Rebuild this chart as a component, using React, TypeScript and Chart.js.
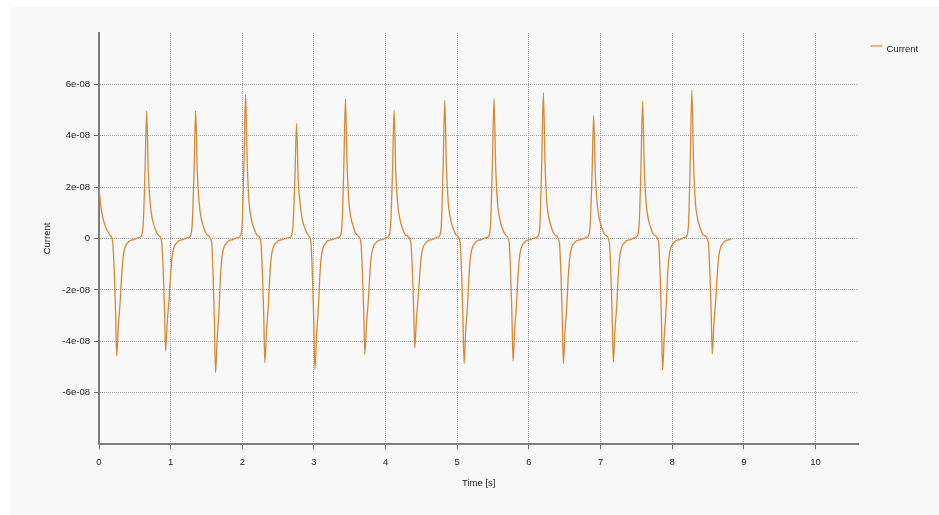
import React, { useEffect, useRef } from 'react';
import { Chart, registerables } from 'chart.js';

Chart.register(...registerables);

const seriesLabel = 'Current';
const xTitle = 'Time [s]';
const yTitle = 'Current';
const xTickValues = [0, 1, 2, 3, 4, 5, 6, 7, 8, 9, 10];
const xTickLabels = ['0', '1', '2', '3', '4', '5', '6', '7', '8', '9', '10'];
const yTickValues = [-6e-8, -4e-8, -2e-8, 0, 2e-8, 4e-8, 6e-8];
const yTickLabels = ['-6e-08', '-4e-08', '-2e-08', '0', '2e-08', '4e-08', '6e-08'];

const timeS = [
  0, 0.037, 0.084, 0.153,
  0.191, 0.214, 0.231, 0.247, 0.27, 0.294, 0.317, 0.34, 0.407, 0.487,
  0.555, 0.595, 0.618, 0.642, 0.665, 0.688, 0.712, 0.735, 0.781, 0.828,
  0.874, 0.897, 0.914, 0.93, 0.953, 0.977, 1.0, 1.023, 1.09, 1.17,
  1.239, 1.279, 1.302, 1.326, 1.349, 1.372, 1.396, 1.419, 1.465, 1.512,
  1.571, 1.594, 1.611, 1.627, 1.65, 1.674, 1.697, 1.72, 1.787, 1.867,
  1.936, 1.976, 1.999, 2.023, 2.046, 2.069, 2.093, 2.116, 2.162, 2.209,
  2.259, 2.282, 2.299, 2.315, 2.338, 2.362, 2.385, 2.408, 2.475, 2.555,
  2.647, 2.687, 2.71, 2.734, 2.757, 2.78, 2.804, 2.827, 2.873, 2.92,
  2.957, 2.98, 2.997, 3.013, 3.036, 3.06, 3.083, 3.106, 3.173, 3.253,
  3.33, 3.37, 3.393, 3.417, 3.44, 3.463, 3.487, 3.51, 3.556, 3.603,
  3.654, 3.677, 3.694, 3.71, 3.733, 3.757, 3.78, 3.803, 3.87, 3.95,
  4.009, 4.049, 4.072, 4.096, 4.119, 4.142, 4.166, 4.189, 4.235, 4.282,
  4.351, 4.374, 4.391, 4.407, 4.43, 4.454, 4.477, 4.5, 4.567, 4.647,
  4.716, 4.756, 4.779, 4.803, 4.826, 4.849, 4.873, 4.896, 4.942, 4.989,
  5.039, 5.062, 5.079, 5.095, 5.118, 5.142, 5.165, 5.188, 5.255, 5.335,
  5.403, 5.443, 5.466, 5.49, 5.513, 5.536, 5.56, 5.583, 5.629, 5.676,
  5.723, 5.746, 5.763, 5.779, 5.802, 5.826, 5.849, 5.872, 5.939, 6.019,
  6.092, 6.132, 6.155, 6.179, 6.202, 6.225, 6.249, 6.272, 6.318, 6.365,
  6.425, 6.448, 6.465, 6.481, 6.504, 6.528, 6.551, 6.574, 6.641, 6.721,
  6.794, 6.834, 6.857, 6.881, 6.904, 6.927, 6.951, 6.974, 7.02, 7.067,
  7.122, 7.145, 7.162, 7.178, 7.201, 7.225, 7.248, 7.271, 7.338, 7.418,
  7.477, 7.517, 7.54, 7.564, 7.587, 7.61, 7.634, 7.657, 7.703, 7.75,
  7.81, 7.833, 7.85, 7.866, 7.889, 7.913, 7.936, 7.959, 8.026, 8.106,
  8.165, 8.205, 8.228, 8.252, 8.275, 8.298, 8.322, 8.345, 8.391, 8.438,
  8.503, 8.526, 8.543, 8.559, 8.582, 8.606, 8.629, 8.652, 8.719, 8.824,
];

const currentA = [
  1.93e-8, 1.04e-8, 0.51e-8, 0.13e-8,
  -0.13e-8, -1.37e-8, -2.84e-8, -4.58e-8, -3.39e-8, -2.52e-8, -1.4e-8, -0.65e-8, -0.15e-8, -0.04e-8,
  0.03e-8, 0.12e-8, 0.6e-8, 2.58e-8, 4.96e-8, 2.58e-8, 1.45e-8, 0.9e-8, 0.4e-8, 0.13e-8,
  -0.13e-8, -1.31e-8, -2.72e-8, -4.38e-8, -3.24e-8, -2.41e-8, -1.4e-8, -0.65e-8, -0.15e-8, -0.04e-8,
  0.03e-8, 0.12e-8, 0.6e-8, 2.58e-8, 4.96e-8, 2.58e-8, 1.45e-8, 0.9e-8, 0.4e-8, 0.13e-8,
  -0.13e-8, -1.57e-8, -3.24e-8, -5.22e-8, -3.86e-8, -2.87e-8, -1.4e-8, -0.65e-8, -0.15e-8, -0.04e-8,
  0.03e-8, 0.12e-8, 0.6e-8, 2.92e-8, 5.61e-8, 2.92e-8, 1.45e-8, 0.9e-8, 0.4e-8, 0.13e-8,
  -0.13e-8, -1.45e-8, -3.0e-8, -4.84e-8, -3.58e-8, -2.66e-8, -1.4e-8, -0.65e-8, -0.15e-8, -0.04e-8,
  0.03e-8, 0.12e-8, 0.6e-8, 2.32e-8, 4.47e-8, 2.32e-8, 1.45e-8, 0.9e-8, 0.4e-8, 0.13e-8,
  -0.13e-8, -1.53e-8, -3.16e-8, -5.09e-8, -3.77e-8, -2.8e-8, -1.4e-8, -0.65e-8, -0.15e-8, -0.04e-8,
  0.03e-8, 0.12e-8, 0.6e-8, 2.82e-8, 5.42e-8, 2.82e-8, 1.45e-8, 0.9e-8, 0.4e-8, 0.13e-8,
  -0.13e-8, -1.35e-8, -2.8e-8, -4.51e-8, -3.34e-8, -2.48e-8, -1.4e-8, -0.65e-8, -0.15e-8, -0.04e-8,
  0.03e-8, 0.12e-8, 0.6e-8, 2.59e-8, 4.99e-8, 2.59e-8, 1.45e-8, 0.9e-8, 0.4e-8, 0.13e-8,
  -0.13e-8, -1.28e-8, -2.64e-8, -4.26e-8, -3.15e-8, -2.34e-8, -1.4e-8, -0.65e-8, -0.15e-8, -0.04e-8,
  0.03e-8, 0.12e-8, 0.6e-8, 2.8e-8, 5.38e-8, 2.8e-8, 1.45e-8, 0.9e-8, 0.4e-8, 0.13e-8,
  -0.13e-8, -1.46e-8, -3.02e-8, -4.87e-8, -3.6e-8, -2.68e-8, -1.4e-8, -0.65e-8, -0.15e-8, -0.04e-8,
  0.03e-8, 0.12e-8, 0.6e-8, 2.83e-8, 5.45e-8, 2.83e-8, 1.45e-8, 0.9e-8, 0.4e-8, 0.13e-8,
  -0.13e-8, -1.43e-8, -2.96e-8, -4.77e-8, -3.53e-8, -2.62e-8, -1.4e-8, -0.65e-8, -0.15e-8, -0.04e-8,
  0.03e-8, 0.12e-8, 0.6e-8, 2.95e-8, 5.67e-8, 2.95e-8, 1.45e-8, 0.9e-8, 0.4e-8, 0.13e-8,
  -0.13e-8, -1.46e-8, -3.02e-8, -4.87e-8, -3.6e-8, -2.68e-8, -1.4e-8, -0.65e-8, -0.15e-8, -0.04e-8,
  0.03e-8, 0.12e-8, 0.6e-8, 2.5e-8, 4.8e-8, 2.5e-8, 1.45e-8, 0.9e-8, 0.4e-8, 0.13e-8,
  -0.13e-8, -1.44e-8, -2.98e-8, -4.81e-8, -3.56e-8, -2.65e-8, -1.4e-8, -0.65e-8, -0.15e-8, -0.04e-8,
  0.03e-8, 0.12e-8, 0.6e-8, 2.78e-8, 5.35e-8, 2.78e-8, 1.45e-8, 0.9e-8, 0.4e-8, 0.13e-8,
  -0.13e-8, -1.54e-8, -3.18e-8, -5.13e-8, -3.8e-8, -2.82e-8, -1.4e-8, -0.65e-8, -0.15e-8, -0.04e-8,
  0.03e-8, 0.12e-8, 0.6e-8, 3.01e-8, 5.78e-8, 3.01e-8, 1.45e-8, 0.9e-8, 0.4e-8, 0.13e-8,
  -0.13e-8, -1.35e-8, -2.78e-8, -4.49e-8, -3.32e-8, -2.47e-8, -1.4e-8, -0.65e-8, -0.15e-8, -0.03e-8,
];

const LINE_COLOR = 'rgb(214,137,52)';
const FONT_FAMILY = '"Liberation Sans", Arial, sans-serif';

const sideLegend = {
  id: 'sideLegend',
  afterDraw(chart: any) {
    const { ctx, chartArea } = chart;
    const ds = chart.data.datasets[0];
    ctx.save();
    ctx.strokeStyle = 'rgba(214,137,52,0.75)';
    ctx.lineWidth = 1.5;
    ctx.beginPath();
    ctx.moveTo(chartArea.right + 12, chartArea.top + 13);
    ctx.lineTo(chartArea.right + 24, chartArea.top + 13);
    ctx.stroke();
    ctx.fillStyle = '#222';
    ctx.font = `9.5px ${FONT_FAMILY}`;
    ctx.textBaseline = 'middle';
    ctx.textAlign = 'left';
    ctx.fillText(ds.label, chartArea.right + 28, chartArea.top + 16);
    ctx.restore();
  },
};

export default function App() {
  const canvasRef = useRef<HTMLCanvasElement | null>(null);

  useEffect(() => {
    const canvas = canvasRef.current;
    if (!canvas) return;
    const points = timeS.map((t, i) => ({ x: t, y: currentA[i] }));
    const chart = new Chart(canvas, {
      type: 'line',
      data: {
        datasets: [
          {
            label: seriesLabel,
            data: points,
            borderColor: LINE_COLOR,
            borderWidth: 1.3,
            pointRadius: 0,
            fill: false,
            cubicInterpolationMode: 'monotone',
          },
        ],
      },
      options: {
        responsive: false,
        animation: false,
        devicePixelRatio: 1,
        layout: { padding: { left: 0, top: 33, right: 80.5, bottom: 0 } },
        plugins: {
          legend: { display: false },
          tooltip: { enabled: false },
        },
        scales: {
          x: {
            type: 'linear',
            min: 0,
            max: 10.6,
            afterBuildTicks: (scale: any) => {
              scale.ticks = xTickValues.map((value) => ({ value }));
            },
            afterFit: (scale: any) => {
              scale.height = 71;
            },
            ticks: {
              padding: 8,
              color: '#222',
              font: { family: FONT_FAMILY, size: 9.5 },
              callback: (_v: any, i: number) => xTickLabels[i],
              maxRotation: 0,
            },
            grid: {
              color: '#a4a4a4',
              lineWidth: 1,
              tickLength: 5,
              tickColor: '#6e6e6e',
              tickWidth: 1,
            },
            border: { display: true, color: '#7d7d7d', width: 2, dash: [1, 1] },
            title: {
              display: true,
              text: xTitle,
              color: '#222',
              font: { family: FONT_FAMILY, size: 9.5 },
              padding: { top: 0, bottom: 26 },
            },
          },
          y: {
            type: 'linear',
            min: -8e-8,
            max: 8e-8,
            afterBuildTicks: (scale: any) => {
              scale.ticks = yTickValues.map((value) => ({ value }));
            },
            afterFit: (scale: any) => {
              scale.width = 99;
            },
            ticks: {
              padding: 4,
              color: '#222',
              font: { family: FONT_FAMILY, size: 9.5 },
              callback: (_v: any, i: number) => yTickLabels[i],
            },
            grid: {
              color: '#a4a4a4',
              lineWidth: 1,
              tickLength: 5,
              tickColor: '#6e6e6e',
              tickWidth: 1,
            },
            border: { display: true, color: '#7d7d7d', width: 2, dash: [1, 1] },
            title: {
              display: true,
              text: yTitle,
              color: '#222',
              font: { family: FONT_FAMILY, size: 9.5 },
              padding: { top: 42, bottom: 0 },
            },
          },
        },
      },
      plugins: [sideLegend],
    } as any);
    return () => chart.destroy();
  }, []);

  return (
    <div style={{ position: 'absolute', left: 0, top: 0, width: 939, height: 515, background: '#ffffff', overflow: 'hidden' }}>
      <div style={{ position: 'absolute', left: 10, top: 7, right: 0, bottom: 0, background: '#f8f8f8' }} />
      <canvas ref={canvasRef} width={939} height={515} style={{ position: 'absolute', left: 0, top: 0, width: 939, height: 515 }} />
    </div>
  );
}
